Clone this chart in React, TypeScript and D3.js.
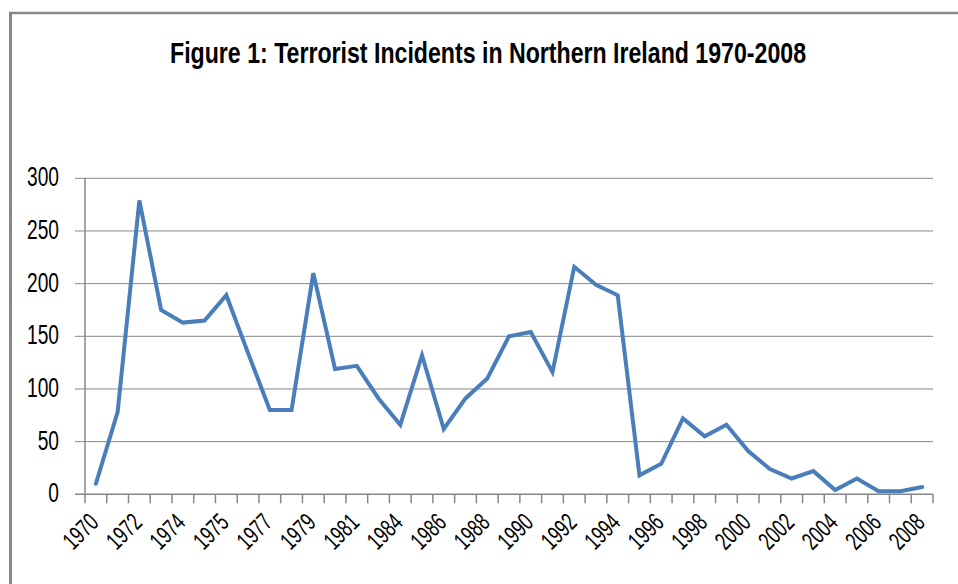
import React, { useLayoutEffect, useRef, useState } from "react";
import * as d3 from "d3";

const title = "Figure 1: Terrorist Incidents in Northern Ireland 1970-2008";

// Category labels (only every second label is shown on the axis)
const categories = [
  "1970", "1971", "1972", "1973", "1974", "1974", "1975", "1976", "1977", "1978",
  "1979", "1980", "1981", "1983", "1984", "1985", "1986", "1987", "1988", "1989",
  "1990", "1991", "1992", "1993", "1994", "1995", "1996", "1997", "1998", "1999",
  "2000", "2001", "2002", "2003", "2004", "2005", "2006", "2007", "2008",
];

const incidents = [
  10, 78, 279, 175, 163, 165, 189, 134, 80, 80,
  210, 119, 122, 91, 66, 132, 62, 91, 110, 150,
  154, 116, 216, 199, 189, 18, 29, 72, 55, 66,
  41, 24, 15, 22, 4, 15, 3, 3, 7,
];

const yTicks = [0, 50, 100, 150, 200, 250, 300];

const W = 958;
const H = 584;
const left = 85;
const right = 933;
const top = 178.3;
const bottom = 494.3;

export default function App() {
  const titleRef = useRef<SVGTextElement | null>(null);
  const [titleScale, setTitleScale] = useState(0.78);

  useLayoutEffect(() => {
    if (titleRef.current) {
      const len = titleRef.current.getComputedTextLength();
      if (len > 0) setTitleScale(636 / len);
    }
  }, []);

  const x = d3
    .scaleBand<number>()
    .domain(d3.range(categories.length))
    .range([left, right])
    .paddingInner(0)
    .paddingOuter(0);
  const y = d3.scaleLinear().domain([0, 300]).range([bottom, top]);

  const line = d3
    .line<number>()
    .x((_, i) => (x(i) as number) + x.bandwidth() / 2)
    .y((d) => y(d));

  const gridColor = "#868686";
  const font = "'Liberation Sans', Arial, sans-serif";

  const tickXs = d3.range(categories.length + 1).map((i) => left + i * x.bandwidth());

  return (
    <svg
      width={W}
      height={H}
      style={{ position: "absolute", left: 0, top: 0, background: "#fff" }}
    >
      <rect x={0} y={0} width={W} height={H} fill="#fff" />
      {/* frame */}
      <line x1={10.5} x2={10.5} y1={12} y2={H} stroke="#878787" strokeWidth={3} />
      <line x1={9} x2={W} y1={13} y2={13} stroke="#878787" strokeWidth={2.5} />

      {/* title */}
      <text
        ref={titleRef}
        transform={`translate(170,63) scale(${titleScale},1)`}
        fontFamily={font}
        fontWeight="bold"
        fontSize={30}
        fill="#000"
      >
        {title}
      </text>

      {/* gridlines and y ticks */}
      {yTicks.map((t) => (
        <g key={t}>
          <line
            x1={75}
            x2={right}
            y1={y(t)}
            y2={y(t)}
            stroke={gridColor}
            strokeWidth={t === 0 ? 1.5 : 1}
          />
          <text
            transform={`translate(59,${y(t) + 8}) scale(0.685,1)`}
            textAnchor="end"
            fontFamily={font}
            fontSize={28}
            fill="#000"
          >
            {t}
          </text>
        </g>
      ))}

      {/* y axis line */}
      <line x1={left} x2={left} y1={top} y2={bottom} stroke={gridColor} strokeWidth={1.5} />

      {/* x tick marks */}
      {tickXs.map((tx, i) => (
        <line
          key={i}
          x1={tx}
          x2={tx}
          y1={bottom}
          y2={bottom + 9}
          stroke={gridColor}
          strokeWidth={1.5}
        />
      ))}

      {/* x labels */}
      {categories.map((c, i) =>
        i % 2 === 0 ? (
          <text
            key={i}
            transform={`translate(${(x(i) as number) + x.bandwidth() / 2 + 4},${524}) rotate(-45) scale(0.685,1)`}
            textAnchor="end"
            fontFamily={font}
            fontSize={25}
            fill="#000"
          >
            {c}
          </text>
        ) : null
      )}

      {/* data line */}
      <path
        d={line(incidents) || ""}
        fill="none"
        stroke="#4A7EBB"
        strokeWidth={4}
        strokeLinejoin="miter"
        strokeLinecap="round"
      />
    </svg>
  );
}
